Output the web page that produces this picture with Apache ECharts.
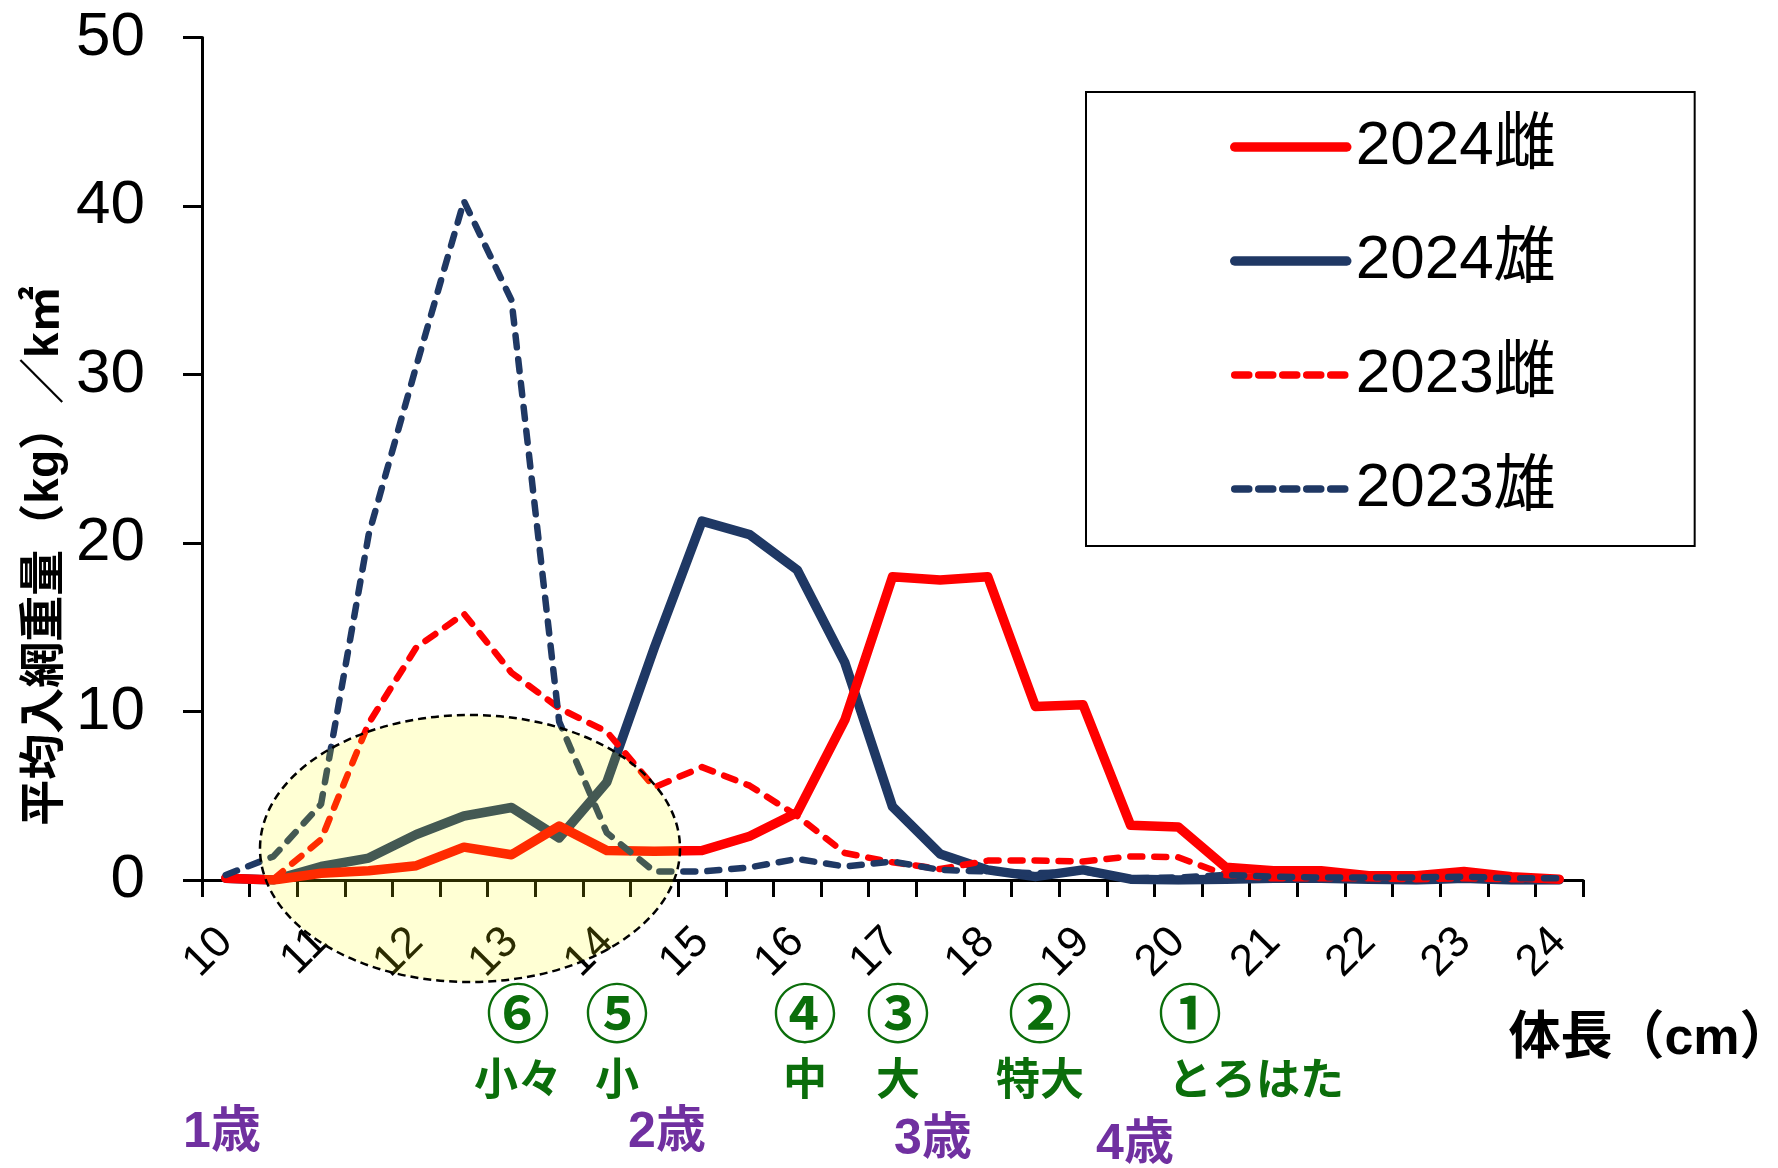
<!DOCTYPE html>
<html>
<head>
<meta charset="utf-8">
<script src="https://cdn.jsdelivr.net/npm/echarts@6/dist/echarts.min.js"></script>
<style>
  html, body { margin: 0; padding: 0; background: #fff; }
  #chart { width: 1778px; height: 1168px; }
</style>
</head>
<body>
<div id="chart"></div>
<script>
// Body length classes (cm), 0.5 cm steps
const bodyLengths = ['10','10.5','11','11.5','12','12.5','13','13.5','14','14.5','15','15.5','16','16.5',
  '17','17.5','18','18.5','19','19.5','20','20.5','21','21.5','22','22.5','23','23.5','24'];

// Mean catch weight per km² (kg) for each length class
const female2024 = [0.1, 0, 0.4, 0.55, 0.85, 1.95, 1.5, 3.2, 1.75, 1.7, 1.75, 2.6, 4.0, 9.5, 18.0, 17.8, 18.0,
  10.3, 10.4, 3.25, 3.15, 0.75, 0.55, 0.55, 0.25, 0.25, 0.5, 0.2, 0.05];
const male2024 = [0.1, 0, 0.8, 1.3, 2.7, 3.8, 4.3, 2.5, 5.8, 13.8, 21.3, 20.5, 18.4, 12.9, 4.35, 1.55, 0.6,
  0.2, 0.6, 0.05, 0, 0.05, 0.1, 0.1, 0.05, 0, 0.1, 0, 0];
const female2023 = [0.1, 0.05, 2.4, 9.3, 13.8, 15.8, 12.3, 10.2, 8.8, 5.5, 6.7, 5.6, 3.8, 1.6, 1.05, 0.65, 1.15,
  1.15, 1.1, 1.4, 1.35, 0.3, 0.1, 0.1, 0.1, 0.05, 0.1, 0.05, 0.05];
const male2023 = [0.3, 1.4, 4.5, 20.5, 30.5, 40.3, 34.4, 9.4, 2.8, 0.5, 0.5, 0.75, 1.25, 0.8, 1.1, 0.6, 0.5,
  0.4, 0.5, 0.1, 0.15, 0.3, 0.2, 0.15, 0.15, 0.15, 0.2, 0.1, 0.1];

const seriesNames = ['2024雌', '2024雄', '2023雌', '2023雄'];

// Market grades and ages shown under the length axis
const gradeMarks = ['⑥', '⑤', '④', '③', '②', '①'];
const gradeNames = ['小々', '小', '中', '大', '特大', 'とろはた'];
const ageLabels = ['1歳', '2歳', '3歳', '4歳'];

const RED = '#FF0000';
const NAVY = '#1F3864';
const GREEN = '#0B6E0B';
const PURPLE = '#7030A0';
const FONT = "'Liberation Sans', 'Noto Sans CJK JP', sans-serif";
const DASH = [12, 12];

const chart = echarts.init(document.getElementById('chart'), null, { renderer: 'canvas' });

function lineSeries(name, data, color, dashed) {
  return {
    name: name,
    type: 'line',
    data: data,
    symbol: 'none',
    lineStyle: dashed
      ? { color: color, width: 6.5, type: DASH, cap: 'round', join: 'round' }
      : { color: color, width: 9.5, type: 'solid', cap: 'round', join: 'round' },
    itemStyle: { color: color },
    emphasis: { disabled: true }
  };
}

function label(text, x, y, size, color, align, weight) {
  return {
    type: 'text', x: x, y: y, z: 50,
    style: {
      text: text, fill: color, font: (weight || 'bold') + ' ' + size + 'px ' + FONT,
      textAlign: align || 'center', textVerticalAlign: 'middle'
    }
  };
}

const gradeX = [518, 617, 805, 898, 1040, 1190];
const ageX = [222, 667, 933, 1135];
const ageY = [1133, 1133, 1140, 1145];

const graphics = [];
gradeMarks.forEach((m, i) => graphics.push(label(m, gradeX[i], 1019, 64, GREEN)));
gradeNames.forEach((n, i) => {
  if (i === gradeNames.length - 1) graphics.push(label(n, 1168, 1083, 44, GREEN, 'left'));
  else graphics.push(label(n, gradeX[i], 1083, 44, GREEN));
});
ageLabels.forEach((a, i) => graphics.push(label(a, ageX[i], ageY[i], 50, PURPLE)));
// axis titles
graphics.push(label('体長（cm）', 1650, 1040, 52, '#000'));
graphics.push({
  type: 'text', x: 45, y: 556, rotation: Math.PI / 2, z: 50,
  style: {
    text: '平均入網重量（kg）／k㎡', fill: '#000', font: 'bold 46px ' + FONT,
    textAlign: 'center', textVerticalAlign: 'middle'
  }
});
// highlighted young-fish range
graphics.push({
  type: 'ellipse', z: 100,
  shape: { cx: 470, cy: 848.5, rx: 210, ry: 133.5 },
  style: { fill: 'rgba(255,255,0,0.17)', stroke: '#000', lineWidth: 2.5, lineDash: [8, 5] }
});

chart.setOption({
  animation: false,
  backgroundColor: '#fff',
  grid: { left: 202, right: 195, top: 37.5, bottom: 288, containLabel: false, outerBoundsMode: 'none' },
  legend: {
    orient: 'vertical',
    left: 1086, top: 92,
    data: [
      { name: seriesNames[0], lineStyle: { width: 9.5 } },
      { name: seriesNames[1], lineStyle: { width: 9.5 } },
      { name: seriesNames[2], lineStyle: { width: 7.5, type: [14, 10] } },
      { name: seriesNames[3], lineStyle: { width: 7.5, type: [14, 10] } }
    ],
    selectedMode: false,
    itemWidth: 112, itemHeight: 20, itemGap: 44,
    padding: [20, 139, 22, 144],
    borderColor: '#000', borderWidth: 2, backgroundColor: '#fff',
    itemStyle: { opacity: 0 },
    lineStyle: { width: 'inherit', cap: 'round' },
    textStyle: { fontSize: 62, color: '#000', fontFamily: FONT, lineHeight: 70, padding: [0, 0, 0, 4] }
  },
  xAxis: {
    type: 'category',
    data: bodyLengths,
    boundaryGap: true,
    axisLine: { show: true, lineStyle: { color: '#000', width: 3 } },
    axisTick: { show: true, interval: 0, length: 17, inside: false, lineStyle: { color: '#000', width: 3 } },
    axisLabel: { interval: 1, rotate: 45, fontSize: 44, color: '#000', fontFamily: FONT, margin: 55 },
    splitLine: { show: false }
  },
  yAxis: {
    type: 'value',
    min: 0, max: 50, interval: 10,
    axisLine: { show: true, lineStyle: { color: '#000', width: 3 } },
    axisTick: { show: true, length: 19, inside: false, lineStyle: { color: '#000', width: 3 } },
    axisLabel: { fontSize: 62, color: '#000', fontFamily: FONT, margin: 57 },
    splitLine: { show: false }
  },
  series: [
    lineSeries(seriesNames[1], male2024, NAVY, false),
    lineSeries(seriesNames[0], female2024, RED, false),
    lineSeries(seriesNames[2], female2023, RED, true),
    lineSeries(seriesNames[3], male2023, NAVY, true)
  ],
  graphic: graphics
});
</script>
</body>
</html>
